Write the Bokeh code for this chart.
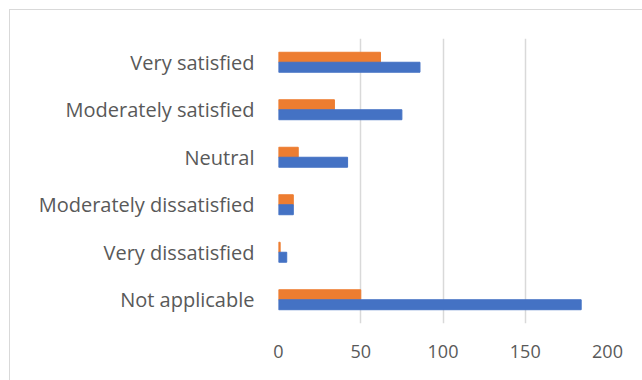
from bokeh.plotting import figure
from bokeh.models import Range1d, FactorRange
from bokeh.transform import dodge
from bokeh.models import ColumnDataSource
from bokeh.embed import file_html
from bokeh.resources import INLINE

categories = ["Not applicable", "Very dissatisfied", "Moderately dissatisfied",
              "Neutral", "Moderately satisfied", "Very satisfied"]
series_blue = [184, 5, 9, 42, 75, 86]
series_orange = [50, 1, 9, 12, 34, 62]
x_ticks = [0, 50, 100, 150, 200]

FONT = "Open Sans"
TXT = "#595959"

src = ColumnDataSource(dict(cat=categories, blue=series_blue, orange=series_orange))

p = figure(width=633, height=371, y_range=FactorRange(*categories, range_padding=0),
           x_range=Range1d(0, 200), output_backend="svg", toolbar_location=None,
           min_border_left=268, min_border_right=36, min_border_top=28, min_border_bottom=58,
           margin=(9, 0, 0, 9),
           styles={"border-left": "1.5px solid #d9d9d9", "border-top": "1.5px solid #d9d9d9"})

bar_h = 0.21
p.hbar(y=dodge("cat", bar_h / 2, range=p.y_range), right="orange", left=0, height=bar_h,
       color="#ED7D31", source=src)
p.hbar(y=dodge("cat", -bar_h / 2, range=p.y_range), right="blue", left=0, height=bar_h,
       color="#4472C4", source=src)

p.outline_line_color = None
p.ygrid.grid_line_color = None
p.xgrid.grid_line_color = "#d9d9d9"
p.xgrid.grid_line_width = 1.5
p.xaxis.ticker = x_ticks
for ax in (p.xaxis[0], p.yaxis[0]):
    ax.axis_line_color = None
    ax.major_tick_line_color = None
    ax.minor_tick_line_color = None
    ax.major_tick_out = 0
    ax.major_tick_in = 0
    ax.major_label_text_font = FONT
    ax.major_label_text_color = TXT
p.xaxis.major_label_text_font_size = "18px"
p.yaxis.major_label_text_font_size = "20px"
p.xaxis.major_label_standoff = 21
p.yaxis.major_label_standoff = 24
p.background_fill_color = "white"
p.border_fill_color = "white"

open("out.html", "w").write(file_html(p, INLINE))
